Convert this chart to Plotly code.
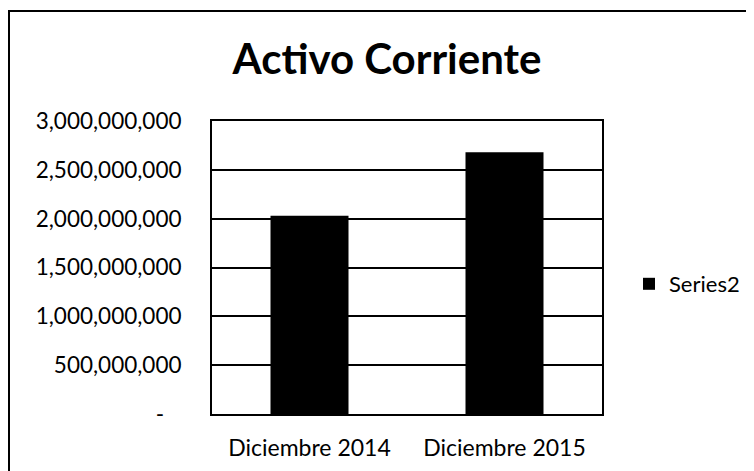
import plotly.graph_objects as go

categories = ["Diciembre 2014", "Diciembre 2015"]
series2 = [2030000000, 2680000000]
tick_vals = [0, 500000000, 1000000000, 1500000000, 2000000000, 2500000000, 3000000000]
tick_text = ["-\u00a0\u00a0\u00a0", "500,000,000", "1,000,000,000", "1,500,000,000", "2,000,000,000", "2,500,000,000", "3,000,000,000"]

W, H = 754, 471
L, R, T, B = 204, 160, 113, 65
PW, PH = W - L - R, H - T - B

FONT = "Lato, Open Sans, sans-serif"

fig = go.Figure()
fig.add_trace(go.Bar(x=categories, y=series2, name="Series2",
                     marker=dict(color="black", line=dict(width=0))))

fig.update_layout(
    width=W, height=H,
    margin=dict(l=L, r=R, t=T, b=B),
    paper_bgcolor="white", plot_bgcolor="white",
    font=dict(family=FONT, color="black", size=22),
    title=dict(text="<b>Activo Corriente</b>", x=379 / W, xanchor="center",
               y=1 - 51 / H, yanchor="middle",
               font=dict(size=42, family=FONT, color="black")),
    bargap=0.6,
    showlegend=True,
    legend=dict(x=(621 - L) / PW, xanchor="left", y=(T + PH - 276) / PH, yanchor="middle",
                font=dict(size=22), bgcolor="rgba(0,0,0,0)"),
    xaxis=dict(showline=True, linecolor="black", linewidth=2, mirror=True,
               ticks="", tickfont=dict(size=23), ticklabelstandoff=12),
    yaxis=dict(range=[0, 3000000000], tickvals=tick_vals, ticktext=tick_text,
               showgrid=True, gridcolor="black", gridwidth=2,
               showline=True, linecolor="black", linewidth=2, mirror=True,
               ticks="", ticklabelstandoff=24, tickfont=dict(size=22.5),
               zeroline=False),
    shapes=[dict(type="rect", xref="paper", yref="paper",
                 x0=-(L - 1) / PW, x1=(W - L + 10) / PW,
                 y0=-(B + 10) / PH, y1=1 + (T - 3) / PH,
                 line=dict(color="black", width=2), layer="below")],
)

fig.write_html("out.html")
